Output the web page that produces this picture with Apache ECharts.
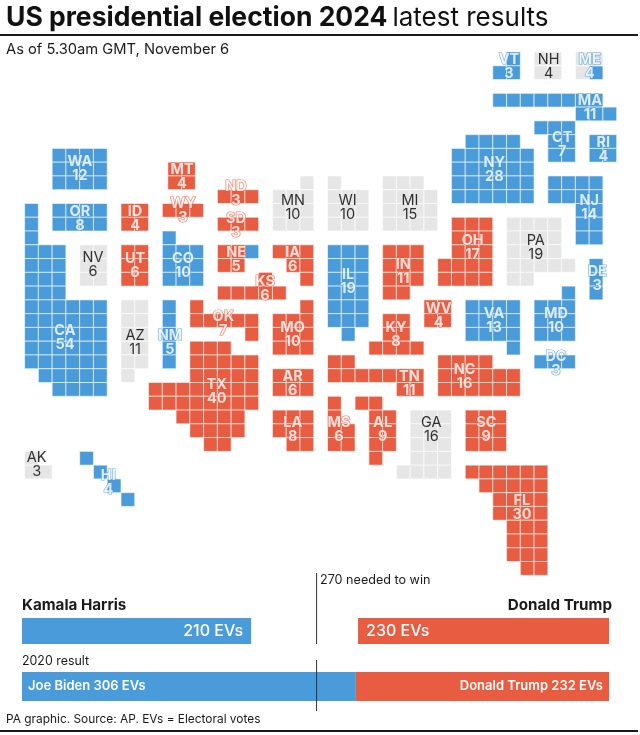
<!DOCTYPE html>
<html lang="en">
<head>
<meta charset="UTF-8">
<title>US presidential election 2024 latest results</title>
<script src="https://cdn.jsdelivr.net/npm/echarts@6/dist/echarts.min.js"></script>
<style>
html,body{margin:0;padding:0;background:#fff}
#main{width:640px;height:735px}
</style>
</head>
<body>
<div id="main"></div>
<script>
// states, electoral votes and who has won them (H, T, or U = not called)
var stateCodes = ['WA','OR','CA','NV','ID','MT','WY','UT','CO','AZ','NM','ND','SD','NE','KS','OK','TX','MN','IA','MO','AR','LA','WI','IL','MS','AL','TN','MI','IN','KY','OH','WV','GA','PA','VA','NC','SC','FL','NY','NJ','DE','MD','DC','CT','RI','MA','VT','NH','ME','AK','HI'];
var stateVotes = [12,8,54,6,4,4,3,6,10,11,5,3,3,5,6,7,40,10,6,10,6,8,10,19,6,9,11,15,11,8,17,4,16,19,13,16,9,30,28,14,3,10,3,7,4,11,3,4,4,3,4];
var stateWinner = ['H','H','H','U','T','T','T','T','H','U','H','T','T','T','T','T','T','U','T','T','T','T','U','H','T','T','T','U','T','T','T','T','U','U','H','T','T','T','H','H','H','H','H','H','H','H','H','U','H','U','H'];

// tiles of each state, one [row, first column, number of tiles] per run
var stateTiles = [
  [[7,2,4],[8,2,4],[9,2,4]],
  [[11,2,4],[12,2,4]],
  [[11,0,1],[12,0,1],[13,0,1],[14,0,3],[15,0,3],[16,0,3],[17,0,3],[18,0,6],[19,0,6],[20,0,6],[21,0,6],[22,0,6],[23,1,5],[24,2,4]],
  [[14,4,2],[15,4,2],[16,4,2]],
  [[11,7,2],[12,7,2]],
  [[8,10.4,2],[9,10.4,2]],
  [[11,10,3]],
  [[14,7,2],[15,7,2],[16,7,2]],
  [[13,10,1],[14,10,3],[15,10,3],[16,10,3]],
  [[18,7,2],[19,7,2],[20,7,2],[21,7,2],[22,7,2],[23,7,1]],
  [[18,10,1],[19,10,1],[20,10,1],[21,10,1],[22,10,1]],
  [[10,14,3]],
  [[12,14,3]],
  [[14,14,2],[15,14,2]],
  [[16,17,1],[17,14,5]],
  [[18,12,1],[19,12,5],[20,16,1]],
  [[21,12,3],[22,12,5],[23,12,5],[24,9,8],[25,9,8],[26,11,5],[27,12,4],[28,13,2]],
  [[9,20,1],[10,18,3],[11,18,3],[12,18,3]],
  [[14,18,3],[15,19,2],[16,20,1]],
  [[18,20,1],[19,18,3],[20,18,3],[21,18,3]],
  [[23,18,3],[24,18,3]],
  [[26,18,3],[27,18,3],[28,19,2]],
  [[9,22,1],[10,22,3],[11,22,3],[12,22,3]],
  [[14,22,3],[15,22,3],[16,22,3],[17,22,3],[18,22,3],[19,22,3],[20,23,1]],
  [[25,22,1],[26,22,1],[27,22,2],[28,22,2]],
  [[25,24,2],[26,25,2],[27,25,2],[28,25,2],[29,25,1]],
  [[22,22,2],[23,22,7],[24,27,2]],
  [[9,26,3],[10,26,4],[11,26,4],[12,26,4]],
  [[14,26,3],[15,26,3],[16,26,3],[17,26,2]],
  [[19,26,2],[20,26,2],[21,25,4]],
  [[12,31,3],[13,31,3],[14,31,3],[15,30,4],[16,30,4]],
  [[18,29,2],[19,29,2]],
  [[26,28,3],[27,28,3],[28,28,3],[29,28,3],[30,27,4]],
  [[12,35,4],[13,35,4],[14,35,4],[15,35,5],[16,35,2]],
  [[18,32,4],[19,32,4],[20,32,4],[21,35,1]],
  [[22,30,4],[23,30,6],[24,30,6]],
  [[26,32,3],[27,32,3],[28,32,3]],
  [[30,32,6],[31,33,5],[32,34,4],[33,34,4],[34,35,3],[35,35,3],[36,35,3],[37,36,2]],
  [[6,32,4],[7,31,6],[8,31,6],[9,31,6],[10,31,6]],
  [[9,38,4],[10,38,4],[11,40,2],[12,40,2],[13,40,2]],
  [[15,41,1],[16,41,1],[17,41,1]],
  [[17,39,1],[18,37,3],[19,37,3],[20,37,3]],
  [[22,37,3]],
  [[5,37,3],[6,38,2],[7,38,2]],
  [[6,41,2],[7,41,2]],
  [[3,34,8],[4,40,3]],
  [[0,35,1],[1,34,2]],
  [[0,37,2],[1,37,2]],
  [[1,41,1]],
  [[29,0,1],[30,0,2]],
  [[29,4,1],[30,5,1],[31,6,1],[32,7,1]]
];
// tiles whose result differs from the rest of the state: Nebraska's district, Maine's uncalled votes
var splitTiles = [[14,16,'H'],[0,40,'U'],[0,41,'U'],[1,40,'U']];

// where each state's label sits, in tile columns and rows
var labelCols = [4.02,4.02,2.93,4.97,8.02,11.43,11.5,8.02,11.5,8.02,10.56,15.35,15.35,15.37,17.46,14.43,13.95,19.49,19.47,19.47,19.47,19.47,23.46,23.49,22.83,26,27.94,27.99,27.5,26.97,32.54,30.07,29.54,37.12,34.09,31.96,33.53,36.12,34.11,41.01,41.59,38.59,38.59,39.05,42.03,41.06,35.18,38.06,41.04,0.88,6.08];
var labelRows = [8.42,12.06,20.7,15.4,12.06,8.97,11.47,15.47,15.47,21.04,21.06,10.24,12.53,15.03,17.09,19.66,24.6,11.26,15.03,20.48,24.04,27.38,11.23,16.63,27.38,27.38,24.04,11.23,15.9,20.48,14.11,19.1,27.38,14.11,19.44,23.48,27.38,33.02,8.45,11.23,16.41,19.44,22.55,6.63,7.04,3.99,1.02,1.02,1.02,29.9,31.23];

// results bars
var harrisEVs = 210, trumpEVs = 230, totalEVs = 538, neededEVs = 270;
var bidenEVs = 306, trump2020EVs = 232;

var fillOf = {H:'#4a9bd9', T:'#e85c41', U:'#e6e6e6'};
var font = 'Inter, "Liberation Sans", sans-serif';

var tiles = [];
stateCodes.forEach(function(code, i){
  stateTiles[i].forEach(function(run){
    for (var n = 0; n < run[2]; n++) {
      tiles.push([run[1] + n, run[0], stateWinner[i]]);
    }
  });
});
splitTiles.forEach(function(s){
  tiles.push([s[1], s[0], s[2]]);
});

var labels = stateCodes.map(function(code, i){
  var w = stateWinner[i];
  return {
    name: code + '\n' + stateVotes[i],
    value: [labelCols[i], labelRows[i]],
    label: {
      color: w == 'U' ? '#000' : '#fff',
      fontWeight: w == 'U' ? 400 : 700,
      textBorderColor: fillOf[w],
      textBorderWidth: w == 'U' ? 1 : 1.2
    }
  };
});

function textAt(x, y, text, size, weight, color, align) {
  return {
    type: 'text', x: x, y: y, z: 50,
    style: {text: text, fontFamily: font, fontSize: size, fontWeight: weight || 400, fill: color || '#1a1a1a', align: align || 'left', verticalAlign: 'middle'}
  };
}

var myChart = echarts.init(document.getElementById('main'));

var option = {
  animation: false,
  backgroundColor: '#fff',
  title: {
    left: 1, top: 0,
    text: '{b|US presidential election 2024} {r|latest results}',
    textStyle: {
      rich: {
        b: {fontFamily: font, fontSize: 26.5, fontWeight: 700, color: '#111'},
        r: {fontFamily: font, fontSize: 26, fontWeight: 400, color: '#111'}
      }
    }
  },
  grid: [
    {left: 24.6, top: 52, width: 592.1, height: 523.3},
    {left: 22, top: 618, width: 587, height: 26},
    {left: 22, top: 672, width: 587, height: 29},
    {left: 22, top: 573, width: 587, height: 138}
  ],
  xAxis: [
    {type: 'value', gridIndex: 0, min: 0, max: 43, show: false},
    {type: 'value', gridIndex: 1, min: 0, max: totalEVs, show: false},
    {type: 'value', gridIndex: 2, min: 0, max: totalEVs, show: false},
    {type: 'value', gridIndex: 3, min: 0, max: totalEVs, show: false}
  ],
  yAxis: [
    {type: 'value', gridIndex: 0, min: 0, max: 38, inverse: true, show: false},
    {type: 'category', gridIndex: 1, data: ['2024'], show: false},
    {type: 'category', gridIndex: 2, data: ['2020'], show: false},
    {type: 'value', gridIndex: 3, min: 0, max: 138, inverse: true, show: false}
  ],
  series: [
    {
      type: 'custom',
      xAxisIndex: 0, yAxisIndex: 0,
      data: tiles,
      silent: true,
      renderItem: function(params, api){
        var a = api.coord([api.value(0), api.value(1)]);
        var b = api.coord([api.value(0) + 1, api.value(1) + 1]);
        return {
          type: 'rect',
          shape: {x: a[0], y: a[1], width: b[0] - a[0], height: b[1] - a[1]},
          style: {fill: fillOf[tiles[params.dataIndex][2]], stroke: '#fff', lineWidth: 0.6}
        };
      }
    },
    {
      type: 'scatter',
      xAxisIndex: 0, yAxisIndex: 0,
      data: labels,
      symbolSize: 1,
      itemStyle: {color: 'transparent'},
      z: 10,
      silent: true,
      label: {show: true, position: 'inside', offset: [0, 1], formatter: '{b}', fontFamily: font, fontSize: 14.5, lineHeight: 14}
    },
    {
      type: 'bar', xAxisIndex: 1, yAxisIndex: 1, stack: 'now', barWidth: '100%', silent: true,
      data: [harrisEVs], itemStyle: {color: fillOf.H},
      label: {show: true, position: 'insideRight', distance: 8, formatter: harrisEVs + ' EVs', color: '#fff', fontFamily: font, fontSize: 16, fontWeight: 500}
    },
    {
      type: 'bar', xAxisIndex: 1, yAxisIndex: 1, stack: 'now', barWidth: '100%', silent: true,
      data: [totalEVs - harrisEVs - trumpEVs], itemStyle: {color: 'transparent'}
    },
    {
      type: 'bar', xAxisIndex: 1, yAxisIndex: 1, stack: 'now', barWidth: '100%', silent: true,
      data: [trumpEVs], itemStyle: {color: fillOf.T},
      label: {show: true, position: 'insideLeft', distance: 8, formatter: trumpEVs + ' EVs', color: '#fff', fontFamily: font, fontSize: 16, fontWeight: 500}
    },
    {
      type: 'bar', xAxisIndex: 2, yAxisIndex: 2, stack: 'past', barWidth: '100%', silent: true,
      data: [bidenEVs], itemStyle: {color: fillOf.H},
      label: {show: true, position: 'insideLeft', distance: 6, formatter: 'Joe Biden ' + bidenEVs + ' EVs', color: '#fff', fontFamily: font, fontSize: 13, fontWeight: 600}
    },
    {
      type: 'bar', xAxisIndex: 2, yAxisIndex: 2, stack: 'past', barWidth: '100%', silent: true,
      data: [trump2020EVs], itemStyle: {color: fillOf.T},
      label: {show: true, position: 'insideRight', distance: 6, formatter: 'Donald Trump ' + trump2020EVs + ' EVs', color: '#fff', fontFamily: font, fontSize: 13, fontWeight: 600}
    },
    {
      type: 'line', xAxisIndex: 3, yAxisIndex: 3, z: 20, silent: true, symbol: 'none',
      data: [[neededEVs, 0], [neededEVs, 71]],
      lineStyle: {color: '#333', width: 1}
    },
    {
      type: 'line', xAxisIndex: 3, yAxisIndex: 3, z: 20, silent: true, symbol: 'none',
      data: [[neededEVs, 87], [neededEVs, 138]],
      lineStyle: {color: '#333', width: 1}
    }
  ],
  graphic: [
    {type: 'line', z: 50, shape: {x1: 0, y1: 35, x2: 638, y2: 35}, style: {stroke: '#1a1a1a', lineWidth: 2}},
    {type: 'line', z: 50, shape: {x1: 0, y1: 731, x2: 638, y2: 731}, style: {stroke: '#1a1a1a', lineWidth: 2}},
    textAt(6, 50, 'As of 5.30am GMT, November 6', 14.7),
    textAt(320, 580, '270 needed to win', 12.6),
    textAt(22, 605, 'Kamala Harris', 15.2, 700),
    textAt(612, 605, 'Donald Trump', 15.2, 700, '#1a1a1a', 'right'),
    textAt(22, 661, '2020 result', 12.4),
    textAt(6, 719, 'PA graphic. Source: AP. EVs = Electoral votes', 11.9)
  ]
};

myChart.setOption(option);
</script>
</body>
</html>
